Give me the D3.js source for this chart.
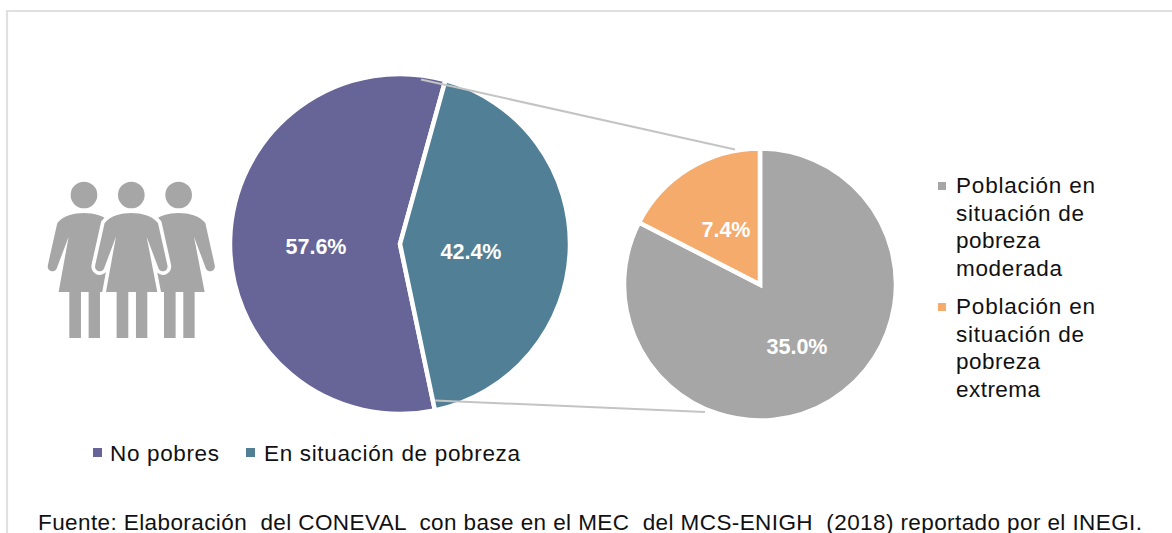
<!DOCTYPE html>
<html><head><meta charset="utf-8">
<script src="https://cdn.jsdelivr.net/npm/d3@7"></script>
<style>
html,body{margin:0;padding:0;background:#fff;overflow:hidden}
svg{display:block}
text{font-family:"Liberation Sans",Arial,sans-serif}
</style></head><body>
<svg id="c" width="1172" height="533"></svg>
<script>
const mainCategories = ["No pobres", "En situación de pobreza"];
const mainValues = [57.6, 42.4];
const mainColors = ["#676498", "#517f96"];
const detailCategories = ["Población en situación de pobreza moderada", "Población en situación de pobreza extrema"];
const detailValues = [35.0, 7.4];
const detailColors = ["#a6a6a6", "#f5ab6b"];
const detailLegendLines = [["Población en","situación de","pobreza","moderada"],["Población en","situación de","pobreza","extrema"]];
const sourceText = "Fuente: Elaboración  del CONEVAL  con base en el MEC  del MCS-ENIGH  (2018) reportado por el INEGI.";

const svg = d3.select("#c");
const rad = d => d*Math.PI/180;

// frame
svg.append("path").attr("d","M7 533V11H1172").attr("fill","none").attr("stroke","#e0e0e0").attr("stroke-width",2.2);

function drawPie(cx,cy,r,vals,cols,start,labels){
  const pie = d3.pie().sort(null).startAngle(rad(start)).endAngle(rad(start+360))(vals);
  const arc = d3.arc().innerRadius(0).outerRadius(r);
  const g = svg.append("g").attr("transform",`translate(${cx},${cy})`);
  g.selectAll("path").data(pie).join("path").attr("d",arc)
    .attr("fill",(d,i)=>cols[i]).attr("stroke","#fff").attr("stroke-width",4.5).attr("stroke-linejoin","miter");
  labels.forEach((l,i)=>{
    svg.append("text").attr("x",l[0]).attr("y",l[1]).attr("text-anchor","middle")
      .attr("font-size",21.5).attr("font-weight","bold").attr("fill","#fff")
      .text(vals[i].toFixed(1)+"%");
  });
}
drawPie(400,244,170,mainValues,mainColors,168.14,[[316,253.5],[471,258.5]]);
drawPie(760,284.5,136,detailValues,detailColors,0,[[797,353.5],[726,236.5]]);

// series lines
const conn = d3.line();
svg.append("path").attr("d",conn([[421,79.5],[735,149.5]])).attr("stroke","#c4c4c4").attr("stroke-width",2).attr("fill","none");
svg.append("path").attr("d",conn([[435,400.5],[705,412]])).attr("stroke","#c4c4c4").attr("stroke-width",2).attr("fill","none");

// people icon
const person = "M0 -55 C-30 -55 -62 -47 -80 -25 L-108 100 C-113 118 -92 128 -82 112 L-46 16 L-76 182 L-44 182 L-44 320 L-9 320 L-9 182 L14 182 L14 320 L48 320 L48 182 L78 182 L46 16 L82 112 C92 128 113 118 108 100 L80 -25 C62 -47 30 -55 0 -55Z";
const icon = svg.append("g").attr("transform","translate(131.3,0) scale(0.3333)");
[-142,142,0].forEach(dx=>{
  const p = icon.append("g").attr("transform",`translate(${dx},694)`);
  if(dx===0){
    p.append("path").attr("d",person).attr("fill","#a6a6a6").attr("stroke","#fff").attr("stroke-width",22).attr("paint-order","stroke");
  } else {
    p.append("path").attr("d",person).attr("fill","#a6a6a6");
  }
  p.append("circle").attr("cy",-109).attr("r",40).attr("fill","#a6a6a6");
});

// legends
function legendText(x,y,str,w){
  svg.append("text").attr("x",x).attr("y",y).attr("font-size",22.5).attr("fill","#111")
    .attr("textLength",w).attr("lengthAdjust","spacing").text(str);
}
svg.append("rect").attr("x",93).attr("y",448).attr("width",9).attr("height",9).attr("fill",mainColors[0]);
legendText(110,460.5,mainCategories[0],109);
svg.append("rect").attr("x",246).attr("y",448).attr("width",9).attr("height",9).attr("fill",mainColors[1]);
legendText(264,460.5,mainCategories[1],256);

const lineW = {"Población en":139,"situación de":128,"pobreza":84,"moderada":106,"extrema":84};
const tops = [193,314];
detailLegendLines.forEach((ls,k)=>{
  svg.append("rect").attr("x",938).attr("y",tops[k]-11).attr("width",8).attr("height",8).attr("fill",detailColors[k]);
  ls.forEach((t,i)=>legendText(956,tops[k]+i*27.6,t,lineW[t]));
});

// source
svg.append("text").attr("x",38).attr("y",530).attr("font-size",22.5).attr("fill","#111")
  .attr("textLength",1104).attr("lengthAdjust","spacing").attr("xml:space","preserve").style("white-space","pre").text(sourceText);
</script>
</body></html>
